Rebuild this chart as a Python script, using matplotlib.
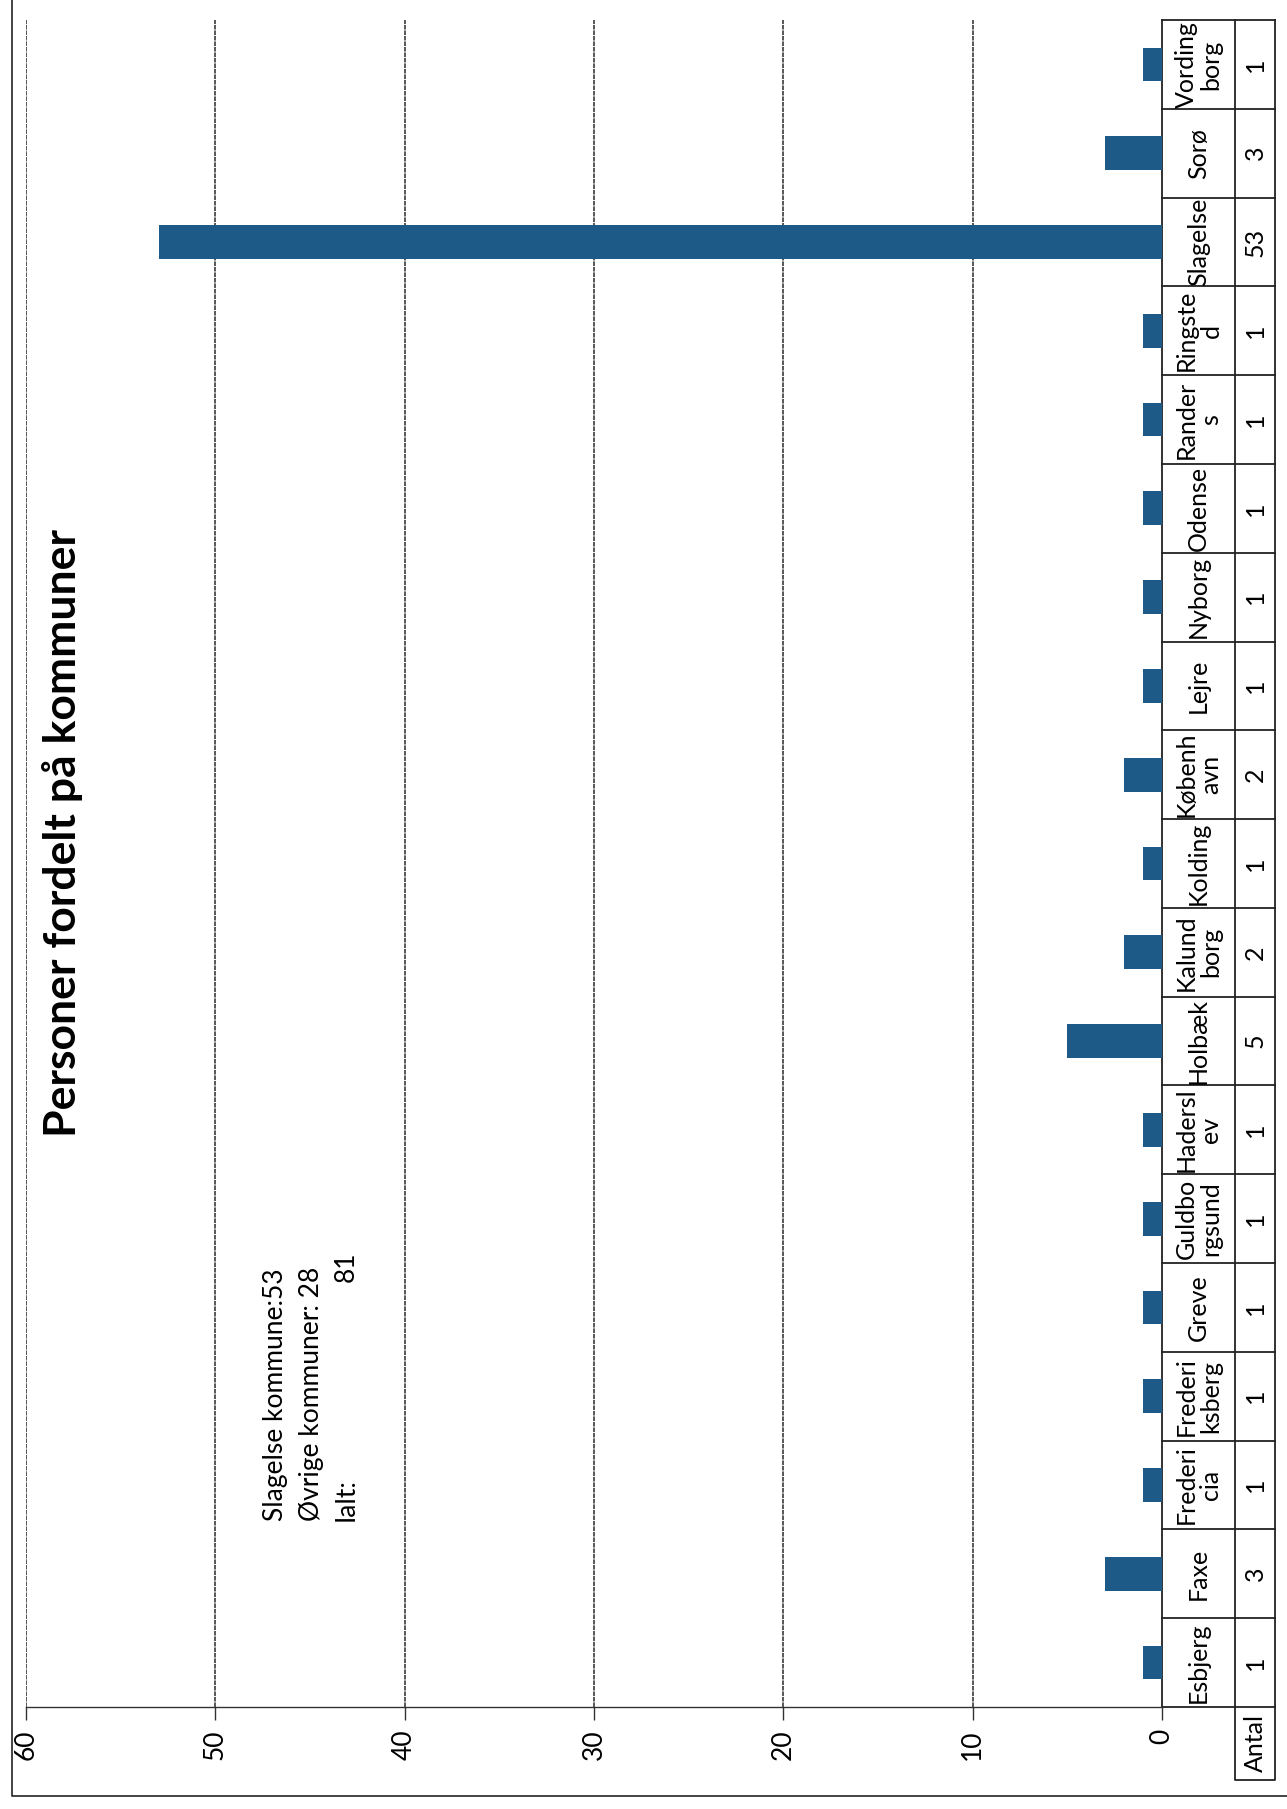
import matplotlib.pyplot as plt
from matplotlib.lines import Line2D

# data (chart is a column chart scanned sideways, so it is drawn rotated)
kommuner = ["Esbjerg", "Faxe", "Frederi\ncia", "Frederi\nksberg", "Greve",
            "Guldbo\nrgsund", "Hadersl\nev", "Holbæk", "Kalund\nborg", "Kolding",
            "Københ\navn", "Lejre", "Nyborg", "Odense", "Rander\ns",
            "Ringste\nd", "Slagelse", "Sorø", "Vording\nborg"]
antal = [1, 3, 1, 1, 1, 1, 1, 5, 2, 1, 2, 1, 1, 1, 1, 1, 53, 3, 1]
value_ticks = [0, 10, 20, 30, 40, 50, 60]
note_lines = ["Slagelse kommune:53", "Øvrige kommuner: 28", "Ialt:"]
note_total = "81"

plt.rcParams['font.family'] = ['Lato', 'DejaVu Sans']

W, H = 1287, 1809
fig = plt.figure(figsize=(W / 100, H / 100), dpi=100)

# plot area in pixels
x0, x1 = 26, 1162
y_top, y_bot = 20, 1707
ax = fig.add_axes([x0 / W, 1 - y_bot / H, (x1 - x0) / W, (y_bot - y_top) / H])

pos = list(range(len(kommuner)))
ax.barh(pos, antal, height=0.38, color='#1d5a88', zorder=3)
ax.set_xlim(60, 0)
ax.set_ylim(-0.5, len(kommuner) - 0.5)

for v in value_ticks[1:]:
    ax.axvline(v, color='#2a2a2a', lw=1.1, ls=(0, (3, 0.6)), zorder=1)

for s in ['top', 'left', 'right']:
    ax.spines[s].set_visible(False)
ax.spines['bottom'].set_color('#333333')
ax.spines['bottom'].set_linewidth(1.0)

ax.set_xticks(value_ticks)
ax.set_xticklabels([str(v) for v in value_ticks], rotation=90, fontsize=19)
ax.tick_params(axis='x', direction='out', length=9, width=1, color='#333333', pad=7)
ax.set_yticks([])

# data table on the right side
tr = ax.get_yaxis_transform()
c0, c1, c2 = 1.0, 1 + 73 / (x1 - x0), 1 + 113 / (x1 - x0)
n = len(kommuner)
lc = '#222222'
for i in range(n + 1):
    ax.add_line(Line2D([c0, c2], [i - 0.5, i - 0.5], transform=tr, color=lc, lw=1.3, clip_on=False))
for c in [c0, c1, c2]:
    ax.add_line(Line2D([c, c], [-0.5, n - 0.5], transform=tr, color=lc, lw=1.3, clip_on=False))
antal_bot = -0.5 - 0.82
ax.add_line(Line2D([c1, c1, c2, c2], [-0.5, antal_bot, antal_bot, -0.5], transform=tr,
                   color=lc, lw=1.3, clip_on=False))
ax.text((c1 + c2) / 2, (-0.5 + antal_bot) / 2, "Antal", transform=tr, rotation=90,
        ha='center', va='center', fontsize=18)
for p, name, v in zip(pos, kommuner, antal):
    ax.text((c0 + c1) / 2, p, name, transform=tr, rotation=90, ha='center', va='center',
            multialignment='center', fontsize=18, linespacing=1.1)
    ax.text((c1 + c2) / 2, p, str(v), transform=tr, rotation=90, ha='center', va='center',
            fontsize=18)

# title and note
fig.text(63 / W, 1 - 833 / H, "Personer fordelt på kommuner", rotation=90,
         ha='center', va='center', fontsize=32, fontweight='bold')
for k, line in enumerate(note_lines):
    fig.text((276 + 35 * k) / W, 1 - 1521 / H, line, rotation=90,
             ha='center', va='bottom', fontsize=19)
fig.text(346 / W, 1 - 1252 / H, note_total, rotation=90,
         ha='center', va='top', fontsize=19)

# outer chart border
fig.add_artist(Line2D([12 / W, 12 / W, 1.0], [1.0, 1 - 1796 / H, 1 - 1796 / H],
                      transform=fig.transFigure, color='#222222', lw=1.2))

fig.savefig('out.png', dpi=100, facecolor='white')
